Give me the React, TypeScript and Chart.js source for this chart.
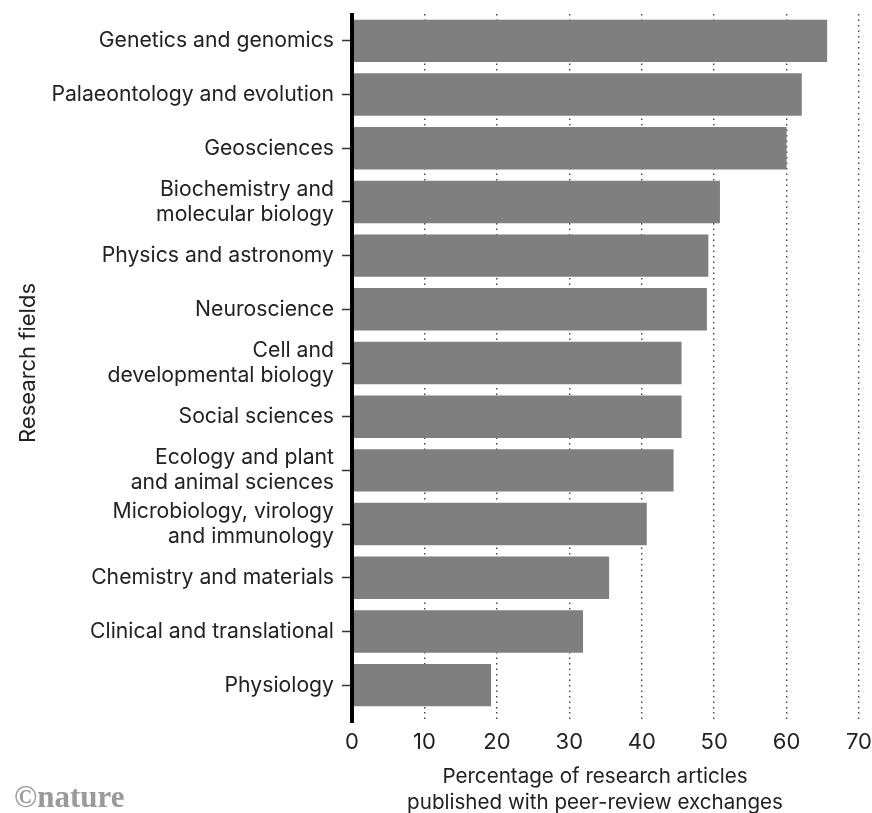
import React, { useEffect, useRef } from "react";
import { Chart, registerables } from "chart.js";

Chart.register(...registerables);

const categories: (string | string[])[] = [
  "Genetics and genomics",
  "Palaeontology and evolution",
  "Geosciences",
  ["Biochemistry and", "molecular biology"],
  "Physics and astronomy",
  "Neuroscience",
  ["Cell and", "developmental biology"],
  "Social sciences",
  ["Ecology and plant", "and animal sciences"],
  ["Microbiology, virology", "and immunology"],
  "Chemistry and materials",
  "Clinical and translational",
  "Physiology",
];

const values: number[] = [65.6, 62.1, 60.0, 50.8, 49.2, 49.0, 45.5, 45.5, 44.4, 40.7, 35.5, 31.9, 19.2];

const xMin = 0;
const xMax = 70;
const xStep = 10;

const xTitleLines = ["Percentage of research articles", "published with peer-review exchanges"];
const yTitle = "Research fields";
const credit = "©nature";

const FONT = "Inter, 'Noto Sans', sans-serif";

export default function App() {
  const ref = useRef<HTMLCanvasElement | null>(null);

  useEffect(() => {
    if (!ref.current) return;
    const decor = {
      id: "decor",
      afterDraw(chart: any) {
        const { ctx, chartArea } = chart;
        ctx.save();
        // axis line
        ctx.strokeStyle = "#000";
        ctx.lineWidth = 4;
        ctx.beginPath();
        ctx.moveTo(chartArea.left, chartArea.top - 1);
        ctx.lineTo(chartArea.left, chartArea.bottom + 11);
        ctx.stroke();
        // x title
        ctx.fillStyle = "#222";
        ctx.font = `20.6px ${FONT}`;
        ctx.textAlign = "center";
        ctx.textBaseline = "middle";
        ctx.fillText(xTitleLines[0], 595, 777);
        ctx.fillText(xTitleLines[1], 595, 803);
        // credit
        ctx.fillStyle = "#9a9a9a";
        ctx.font = "bold 31px 'Liberation Serif', serif";
        ctx.textAlign = "left";
        ctx.textBaseline = "alphabetic";
        ctx.fillText(credit, 14, 807);
        ctx.restore();
      },
    };

    const chart = new Chart(ref.current, {
      type: "bar",
      data: {
        labels: categories as any,
        datasets: [
          {
            data: values,
            backgroundColor: "#7f7f7f",
            borderWidth: 0,
            barPercentage: 0.79,
            categoryPercentage: 1,
          },
        ],
      },
      options: {
        indexAxis: "y",
        animation: false,
        responsive: false,
        devicePixelRatio: 1,
        layout: { padding: { top: 14, right: 13, bottom: 0, left: 0 } },
        plugins: { legend: { display: false }, tooltip: { enabled: false } },
        scales: {
          x: {
            type: "linear",
            min: xMin,
            max: xMax,
            ticks: {
              stepSize: xStep,
              color: "#222",
              font: { family: FONT, size: 22 },
              padding: 7,
              maxRotation: 0,
            },
            grid: {
              color: "#444",
              lineWidth: 1.4,
              drawTicks: true,
              tickLength: 10,
              tickColor: "#444",
              tickWidth: 1.4,
              tickBorderDash: [1.5, 4],
            },
            border: { display: false, dash: [1.5, 4] },
            afterFit(scale: any) {
              scale.height = 101;
              scale.paddingLeft = 0;
              scale.paddingRight = 0;
            },
          },
          y: {
            type: "category",
            ticks: {
              color: "#222",
              font: { family: FONT, size: 21.2, lineHeight: 1.2 },
              padding: 8,
              autoSkip: false,
            },
            grid: {
              offset: false,
              drawOnChartArea: false,
              drawTicks: true,
              tickLength: 10,
              tickColor: "#333",
              tickWidth: 1.5,
            },
            border: { display: false },
            title: {
              display: true,
              text: yTitle,
              color: "#222",
              font: { family: FONT, size: 22 },
              padding: { top: 15, bottom: 0 },
            },
            afterFit(scale: any) {
              scale.width = 352;
              scale.paddingTop = 0;
              scale.paddingBottom = 0;
            },
          },
        },
      },
      plugins: [decor],
    });
    return () => chart.destroy();
  }, []);

  return (
    <div style={{ position: "fixed", left: 0, top: 0, width: 872, height: 813, background: "#fff" }}>
      <canvas ref={ref} width={872} height={813} style={{ width: 872, height: 813, display: "block" }} />
    </div>
  );
}
